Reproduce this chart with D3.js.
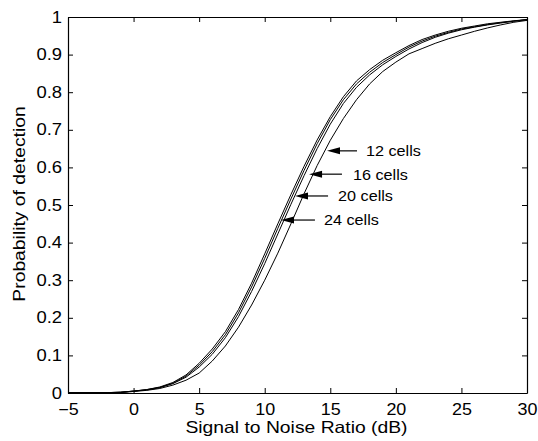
<!DOCTYPE html>
<html>
<head>
<meta charset="utf-8">
<script src="https://cdn.jsdelivr.net/npm/d3@7"></script>
<style>
  body { margin: 0; background: #fff; }
  svg text { font-family: "Liberation Sans", Arial, sans-serif; fill: #000; }
</style>
</head>
<body>
<div id="chart"></div>
<script>
// Probability of detection vs SNR for several reference cell counts

// SNR samples (dB)
const snr = [-5, -4, -3, -2, -1, 0, 1, 2, 3, 4, 5, 6, 7, 8, 9, 10, 11, 12, 13, 14,
             15, 16, 17, 18, 19, 20, 21, 22, 23, 24, 25, 26, 27, 28, 29, 30];

// Pd for each cell count
const pd24 = [0.001, 0.001, 0.001, 0.001, 0.002, 0.005, 0.009, 0.016, 0.028, 0.048,
              0.079, 0.117, 0.163, 0.222, 0.292, 0.370, 0.450, 0.528, 0.603, 0.673,
              0.735, 0.788, 0.830, 0.860, 0.885, 0.905, 0.924, 0.940, 0.952, 0.962,
              0.970, 0.976, 0.982, 0.986, 0.990, 0.993];
const pd20 = [0.001, 0.001, 0.001, 0.001, 0.002, 0.005, 0.009, 0.015, 0.026, 0.045,
              0.074, 0.110, 0.155, 0.213, 0.282, 0.358, 0.438, 0.516, 0.592, 0.663,
              0.727, 0.780, 0.822, 0.853, 0.879, 0.900, 0.920, 0.936, 0.949, 0.959,
              0.968, 0.974, 0.980, 0.985, 0.989, 0.993];
const pd16 = [0.001, 0.001, 0.001, 0.001, 0.002, 0.005, 0.008, 0.014, 0.025, 0.042,
              0.069, 0.103, 0.147, 0.203, 0.270, 0.344, 0.423, 0.502, 0.578, 0.650,
              0.715, 0.770, 0.813, 0.846, 0.873, 0.895, 0.915, 0.932, 0.946, 0.957,
              0.966, 0.973, 0.979, 0.984, 0.989, 0.993];
const pd12 = [0.001, 0.001, 0.001, 0.001, 0.001, 0.004, 0.007, 0.012, 0.021, 0.034,
              0.053, 0.085, 0.125, 0.175, 0.234, 0.300, 0.372, 0.450, 0.530, 0.605,
              0.672, 0.730, 0.780, 0.822, 0.855, 0.880, 0.902, 0.916, 0.930, 0.942,
              0.952, 0.962, 0.971, 0.979, 0.986, 0.991];

// Tick values
const xTicks = [-5, 0, 5, 10, 15, 20, 25, 30];
const yTicks = [0, 0.1, 0.2, 0.3, 0.4, 0.5, 0.6, 0.7, 0.8, 0.9, 1];

// Arrow annotations (data coordinates)
const annoLabels = ["12 cells", "16 cells", "20 cells", "24 cells"];
const annoPd = [0.644, 0.582, 0.524, 0.46];
const annoTipSnr = [14.75, 13.38, 12.31, 11.24];
const annoTailSnr = [17.04, 15.89, 14.83, 13.83];
const annoTextSnr = [17.72, 16.73, 15.59, 14.52];

const width = 538, height = 441;
const margin = { top: 17, right: 11, bottom: 48, left: 68 };
const innerW = width - margin.left - margin.right;
const innerH = height - margin.top - margin.bottom;

const svg = d3.select("#chart").append("svg")
    .attr("width", width)
    .attr("height", height);

const g = svg.append("g")
    .attr("transform", `translate(${margin.left},${margin.top})`);

const x = d3.scaleLinear().domain([-5, 30]).range([0, innerW]);
const y = d3.scaleLinear().domain([0, 1]).range([innerH, 0]);

// stretch text a little horizontally, the source font runs wider than Arial
function widen(sel, factor) {
    sel.each(function () {
        const w = this.getComputedTextLength();
        d3.select(this).attr("textLength", w * factor).attr("lengthAdjust", "spacingAndGlyphs");
    });
}

// Axes, MATLAB style box with inward ticks
const fmt = d => d === 0 || d === 1 ? String(d) : d3.format(".1f")(d);

const xAxis = g.append("g")
    .attr("transform", `translate(0,${innerH})`)
    .call(d3.axisBottom(x).tickValues(xTicks).tickSizeInner(-5).tickSizeOuter(0).tickPadding(10.5));
const xTop = g.append("g")
    .call(d3.axisTop(x).tickValues(xTicks).tickSizeInner(-5).tickSizeOuter(0).tickFormat(""));
const yAxis = g.append("g")
    .call(d3.axisLeft(y).tickValues(yTicks).tickSizeInner(-5).tickSizeOuter(0).tickPadding(6).tickFormat(fmt));
const yRight = g.append("g")
    .attr("transform", `translate(${innerW},0)`)
    .call(d3.axisRight(y).tickValues(yTicks).tickSizeInner(-5).tickSizeOuter(0).tickFormat(""));

[xAxis, xTop, yAxis, yRight].forEach(a => {
    a.select(".domain").attr("stroke", "#000").attr("stroke-width", 1.2);
    a.selectAll(".tick line").attr("stroke", "#000");
    a.selectAll(".tick text").attr("font-size", 16).attr("font-family", null);
});
widen(xAxis.selectAll(".tick text"), 1.12);
widen(yAxis.selectAll(".tick text"), 1.15);

// Curves
const line = d3.line()
    .x((d, i) => x(snr[i]))
    .y(d => y(d));

[pd12, pd16, pd20, pd24].forEach(series => {
    g.append("path")
        .datum(series)
        .attr("fill", "none")
        .attr("stroke", "#000")
        .attr("stroke-width", 1)
        .attr("d", line);
});

// Arrows with labels
const headLen = 13, headHalf = 3.5;
annoLabels.forEach((label, i) => {
    const ty = y(annoPd[i]);
    const tipX = x(annoTipSnr[i]);
    const tailX = x(annoTailSnr[i]);
    g.append("line")
        .attr("x1", tipX + headLen - 1).attr("x2", tailX)
        .attr("y1", ty).attr("y2", ty)
        .attr("stroke", "#000").attr("stroke-width", 1.2);
    g.append("path")
        .attr("d", `M${tipX},${ty}L${tipX + headLen},${ty - headHalf}L${tipX + headLen},${ty + headHalf}Z`)
        .attr("fill", "#000");
    const t = g.append("text")
        .attr("x", x(annoTextSnr[i]))
        .attr("y", ty)
        .attr("dy", "0.36em")
        .attr("font-size", 15)
        .text(label);
    widen(t, 1.08);
});

// Axis titles
const xl = svg.append("text")
    .attr("x", margin.left + innerW / 2 - 1)
    .attr("y", 433)
    .attr("text-anchor", "middle")
    .attr("font-size", 16.5)
    .text("Signal to Noise Ratio (dB)");
widen(xl, 1.17);

const yl = svg.append("text")
    .attr("transform", `translate(25,${margin.top + innerH / 2 - 1}) rotate(-90)`)
    .attr("text-anchor", "middle")
    .attr("font-size", 16.5)
    .text("Probability of detection");
widen(yl, 1.17);
</script>
</body>
</html>
